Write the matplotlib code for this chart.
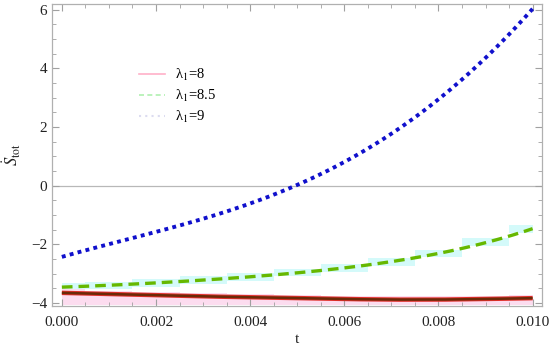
import matplotlib
matplotlib.use("Agg")
import matplotlib.pyplot as plt
import numpy as np
from matplotlib.lines import Line2D
from matplotlib.ticker import MultipleLocator

# values
t = [0.000, 0.001, 0.002, 0.003, 0.004, 0.005, 0.006, 0.007, 0.008, 0.009, 0.010]
s_8 = [-3.65, -3.69, -3.73, -3.77, -3.80, -3.83, -3.86, -3.88, -3.88, -3.86, -3.83]
s_85 = [-3.45, -3.40, -3.31, -3.21, -3.10, -2.96, -2.80, -2.60, -2.31, -1.92, -1.47]
s_9 = [-2.40, -2.03, -1.60, -1.07, -0.58, 0.03, 0.78, 1.75, 2.93, 4.43, 6.00]
labels = ["λ$_1$=8", "λ$_1$=8.5", "λ$_1$=9"]

plt.rcParams['font.family'] = ['Liberation Serif', 'DejaVu Serif']
plt.rcParams['mathtext.fontset'] = 'stix'

fig = plt.figure(figsize=(5.5, 3.51), dpi=100)
ax = fig.add_axes([0.0945, 0.128, 0.891, 0.861])

# smooth curves through the read points
tt = np.linspace(t[0], t[-1], 200)
c8 = np.interp(tt, t, s_8)
c85 = np.polyval(np.polyfit(t, s_85, 4), tt)
c9 = np.polyval(np.polyfit(t, s_9, 4), tt)

# blocky shaded bands behind the lower curves (one block per read point)
tb = np.array(t)
b85 = np.array(s_85)
b8 = np.array(s_8)
ax.fill_between(tb, b85 - 0.13, b85 + 0.13, color='#d4fafa', lw=0, step='mid', zorder=1)
ax.fill_between(tb, b8 + 0.12, np.full_like(tb, -4.08), color='#fcdcef', lw=0, step='mid', zorder=1)

ax.axhline(0, color='#b8b8b8', lw=0.9, zorder=1)

ax.plot(tt, c8, color='#e0302a', lw=3.2, solid_capstyle='butt', zorder=3)
ax.plot(tt, c8, color='#6b2a08', lw=1.8, solid_capstyle='butt', zorder=4)
ax.plot(tt, c85, color='#66b800', lw=2.4, ls=(0, (3.2, 1.8)), zorder=3)
ax.plot(tt, c9, color='#1010cc', lw=2.8, ls=(0, (1.0, 1.1)), zorder=3)

ax.set_xlim(-0.00021, 0.0102)
ax.set_ylim(-4.1, 6.2)
ax.xaxis.set_major_locator(MultipleLocator(0.002))
ax.xaxis.set_minor_locator(MultipleLocator(0.0005))
ax.yaxis.set_major_locator(MultipleLocator(2))
ax.yaxis.set_minor_locator(MultipleLocator(0.5))
ax.xaxis.set_major_formatter(matplotlib.ticker.FormatStrFormatter('%.3f'))
ax.tick_params(which='both', direction='in', top=True, right=True,
               color='#a0a0a0', labelsize=11, labelcolor='#222222')
ax.tick_params(which='major', length=5, width=0.8)
ax.tick_params(which='minor', length=3, width=0.6)
ax.tick_params(axis='x', labeltop=False, pad=7)
for sp in ax.spines.values():
    sp.set_color('#b0b0b0')
    sp.set_linewidth(0.9)

ax.set_xlabel('t', fontsize=11, labelpad=3, color='#222222')
ax.set_ylabel(r'$\dot{S}_{\mathrm{tot}}$', fontsize=12, labelpad=6, color='#222222')

handles = [
    Line2D([], [], color='#ffb0c8', lw=1.2),
    Line2D([], [], color='#b0f0b0', lw=1.2, ls=(0, (3, 2))),
    Line2D([], [], color='#dcdcf0', lw=1.5, ls=(0, (1, 2))),
]
ax.legend(handles, labels, loc='upper left', bbox_to_anchor=(0.15, 0.835),
          frameon=False, fontsize=10.5, handlelength=1.8, handletextpad=0.7,
          labelspacing=0.35)

fig.savefig('out.png', dpi=100)
